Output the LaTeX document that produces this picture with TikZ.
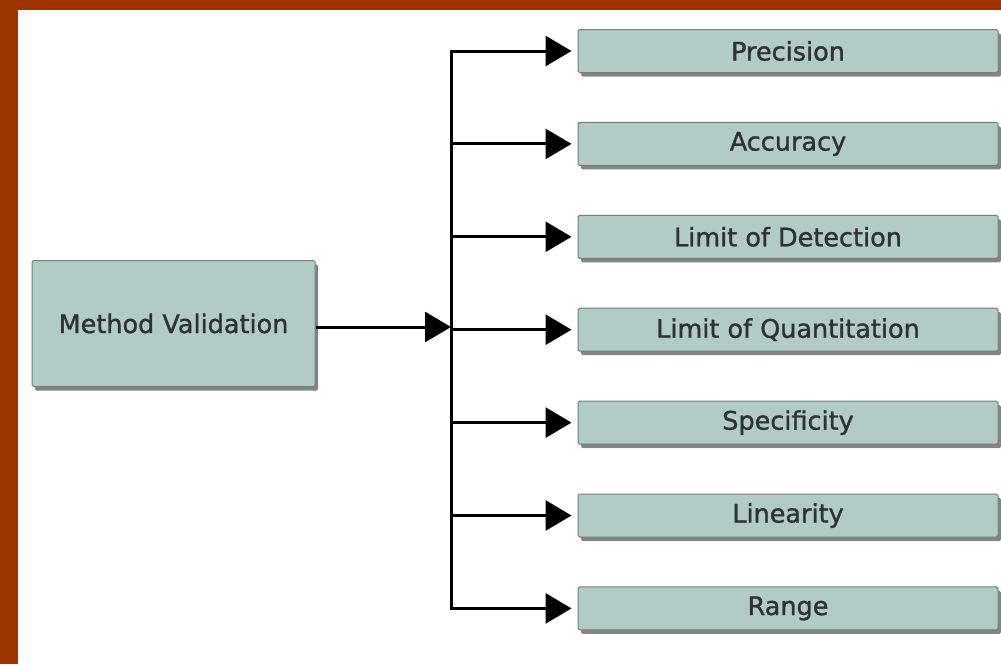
\documentclass[tikz,border=0pt]{standalone}
\usepackage{fontspec}
\setmainfont{DejaVu Sans}
\newfontfamily\boxfont[FakeBold=1.2]{DejaVu Sans}
\usetikzlibrary{arrows.meta,shadows}
\definecolor{frame}{RGB}{156,52,0}
\definecolor{boxfill}{RGB}{179,203,197}
\definecolor{boxline}{RGB}{110,128,124}
\definecolor{txt}{RGB}{45,50,50}
\tikzset{
  vbox/.style={draw=boxline, line width=1pt, fill=boxfill, rounded corners=1.5pt,
    drop shadow={shadow xshift=3pt, shadow yshift=-4pt, fill=black!60, opacity=0.8},
    text=txt, font=\boxfont\fontsize{25.5}{28}\selectfont, inner sep=0pt},
  mainbox/.style={vbox, minimum width=283pt, minimum height=126pt},
  itembox/.style={vbox, minimum width=420pt, minimum height=43pt},
  conn/.style={line width=3pt, black},
  arr/.style={conn, -{Triangle[length=26pt,width=30pt]}}
}
\begin{document}
\begin{tikzpicture}[x=1pt,y=-1pt]
\useasboundingbox (0,0) rectangle (1001,664);
\fill[white] (0,0) rectangle (1001,664);
\fill[frame] (0,0) rectangle (1001,10);
\fill[frame] (0,0) rectangle (18,664);

\node[mainbox] (mv) at (173.5,323.5) {Method Validation};

\node[itembox] (b1) at (788,51) {Precision};
\node[itembox] (b2) at (788,143.9) {Accuracy};
\node[itembox] (b3) at (788,236.8) {Limit of Detection};
\node[itembox] (b4) at (788,329.7) {Limit of Quantitation};
\node[itembox] (b5) at (788,422.6) {Specificity};
\node[itembox] (b6) at (788,515.5) {Linearity};
\node[itembox] (b7) at (788,608.4) {Range};

\coordinate (hub) at (451,327);
\draw[arr] (mv.east |- hub) -- (hub);
\draw[conn, line cap=rect] (hub |- b1.west) -- (hub |- b7.west);
\foreach \b in {b1,b2,b3,b4,b5,b6,b7}{
  \draw[arr, shorten >=6pt] (hub |- \b.west) -- (\b.west);
}
\end{tikzpicture}
\end{document}
